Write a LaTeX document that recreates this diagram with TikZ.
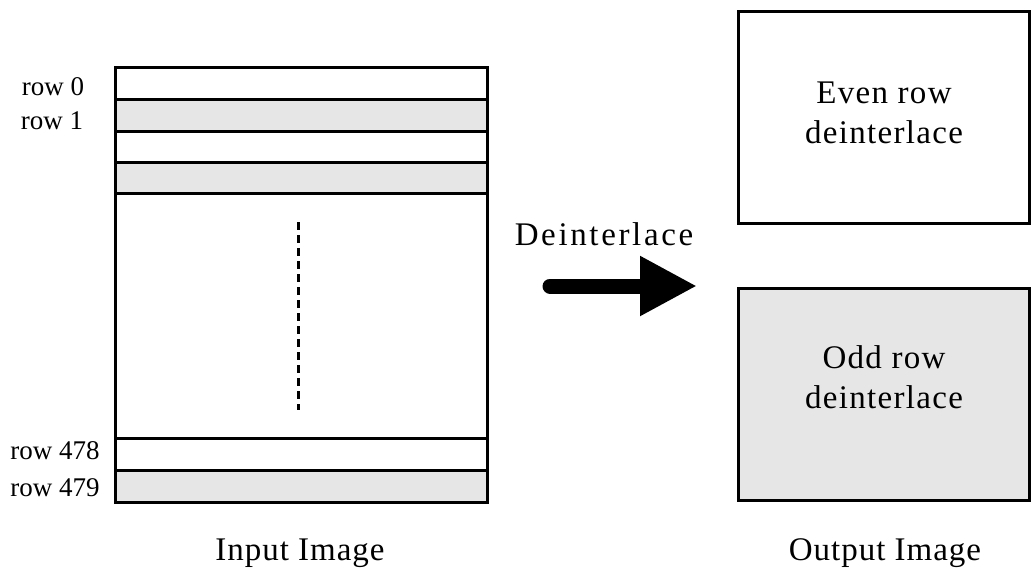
\documentclass[tikz,border=0pt]{standalone}
\usepackage{fontspec}
\setmainfont{Liberation Serif}
\usetikzlibrary{arrows.meta, positioning}
\tikzset{>=stealth}

\definecolor{rowgray}{RGB}{230,230,230}

\tikzset{
  strip/.style={draw, line width=3pt, minimum width=372pt, inner sep=0pt, outer sep=0pt, anchor=north west},
  outbox/.style={draw, line width=3pt, minimum width=291pt, minimum height=212pt, inner sep=0pt, anchor=north west},
  boxtext/.style={align=center, font=\fontsize{33}{40}\selectfont\addfontfeature{LetterSpace=4}},
  rowlabel/.style={anchor=base, font=\fontsize{27}{30}\selectfont},
  caption/.style={font=\fontsize{33}{38}\selectfont\addfontfeature{LetterSpace=3}}
}

\begin{document}
\begin{tikzpicture}[x=1pt, y=-1pt]
        \useasboundingbox (0,0) rectangle (1035,579);

        % input image, row by row
        \node[strip, minimum height=32pt] (r0) at (115,67) {};
        \node[strip, minimum height=32pt, fill=rowgray] (r1) at (115,99) {};
        \node[strip, minimum height=31pt] (r2) at (115,131) {};
        \node[strip, minimum height=31pt, fill=rowgray] (r3) at (115,162) {};
        \node[strip, minimum height=245pt] (mid) at (115,193) {};
        \node[strip, minimum height=32pt] (r478) at (115,438) {};
        \node[strip, minimum height=32pt, fill=rowgray] (r479) at (115,470) {};

        \node[rowlabel] (l0) at (53,95) {row 0};
        \node[rowlabel] (l1) at (52,129) {row 1};
        \node[rowlabel] (l478) at (55,459) {row 478};
        \node[rowlabel] (l479) at (55,496) {row 479};

        \coordinate (dtop) at (298,222);
        \coordinate (dbot) at (298,410);
        \draw[line width=3pt, dash pattern=on 8pt off 5pt] (dtop) -- (dbot);

        % output image
        \node[outbox] (even) at (737,10) {};
        \node[outbox, fill=rowgray] (odd) at (737,287) {};
        \node[boxtext] (eventext) at ([yshift=5pt]even.center) {Even row\\deinterlace};
        \node[boxtext] (oddtext) at ([yshift=17pt]odd.center) {Odd row\\deinterlace};

        % arrow
        \coordinate (astart) at (550,286);
        \coordinate (aend) at (697,286);
        \draw[line width=15pt, line cap=round, -{Triangle[length=57pt, width=56pt]}] (astart) -- (aend);
        \node[caption, font=\fontsize{33}{38}\selectfont\addfontfeature{LetterSpace=8}] (dlabel) at (604,234) {Deinterlace};

        \node[caption] (inlabel) at (300,553) {Input Image};
        \node[caption] (outlabel) at (885,553) {Output Image};
\end{tikzpicture}
\end{document}
